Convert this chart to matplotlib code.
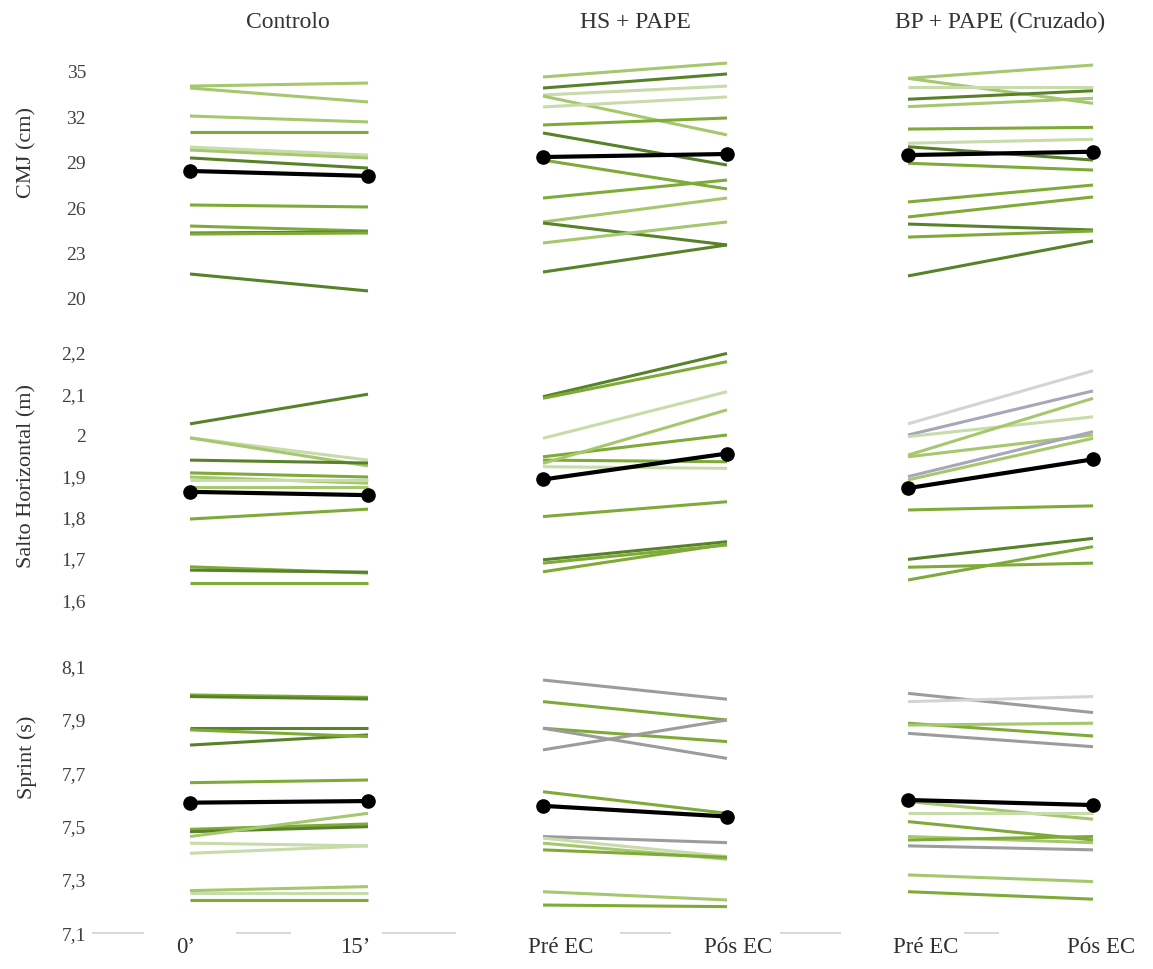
import matplotlib.pyplot as plt
from matplotlib.lines import Line2D
from matplotlib.ticker import FuncFormatter

plt.rcParams["font.family"] = ["Liberation Serif", "DejaVu Serif"]

groups = ["Controlo", "HS + PAPE", "BP + PAPE (Cruzado)"]
time_labels = [["0’", "15’"], ["Pré EC", "Pós EC"], ["Pré EC", "Pós EC"]]
measures = ["CMJ (cm)", "Salto Horizontal (m)", "Sprint (s)"]

cmj_ticks = [20, 23, 26, 29, 32, 35]
sh_ticks = [1.6, 1.7, 1.8, 1.9, 2.0, 2.1, 2.2]
sprint_ticks = [7.1, 7.3, 7.5, 7.7, 7.9, 8.1]

# CMJ (cm)
cmj_ctrl_pre = [34.07, 33.94, 32.09, 31.03, 30.04, 29.84, 29.32, 26.21, 24.82, 24.36, 24.29, 21.65]
cmj_ctrl_post = [34.27, 33.02, 31.70, 31.03, 29.51, 29.32, 28.65, 26.08, 24.49, 24.43, 24.36, 20.53]
cmj_hs_pre = [34.67, 33.94, 33.48, 33.41, 32.69, 31.50, 30.97, 29.18, 26.67, 25.09, 25.02, 23.70, 21.78]
cmj_hs_post = [35.59, 34.87, 34.07, 30.84, 33.35, 31.96, 28.85, 27.27, 27.86, 26.67, 23.57, 25.09, 23.57]
cmj_bp_pre = [34.58, 34.58, 34.03, 33.20, 32.71, 31.23, 30.29, 30.06, 28.97, 26.41, 25.42, 24.95, 24.09, 21.52]
cmj_bp_post = [35.46, 32.93, 34.03, 33.76, 33.26, 31.34, 30.55, 29.18, 28.52, 27.53, 26.74, 24.56, 24.49, 23.83]
cmj_mean = [[28.46, 28.13], [29.38, 29.58], [29.51, 29.73]]

# Salto Horizontal (m)
sh_ctrl_pre = [2.028, 1.994, 1.994, 1.940, 1.909, 1.899, 1.892, 1.875, 1.797, 1.681, 1.673, 1.642]
sh_ctrl_post = [2.100, 1.940, 1.926, 1.933, 1.899, 1.884, 1.892, 1.875, 1.821, 1.666, 1.668, 1.642]
sh_hs_pre = [2.094, 2.090, 1.993, 1.948, 1.940, 1.932, 1.924, 1.803, 1.698, 1.690, 1.669]
sh_hs_post = [2.199, 2.179, 2.106, 2.001, 1.936, 2.062, 1.920, 1.839, 1.742, 1.734, 1.736]
sh_bp_pre = [2.028, 2.001, 1.997, 1.952, 1.948, 1.900, 1.892, 1.819, 1.699, 1.680, 1.649]
sh_bp_post = [2.157, 2.108, 2.045, 2.090, 2.001, 2.009, 1.993, 1.829, 1.750, 1.690, 1.730]
sh_mean = [[1.863, 1.855], [1.893, 1.956], [1.872, 1.942]]

# Sprint (s)
sp_ctrl_pre = [7.994, 7.988, 7.869, 7.806, 7.863, 7.665, 7.490, 7.481, 7.463, 7.438, 7.400, 7.260, 7.250, 7.225]
sp_ctrl_post = [7.985, 7.979, 7.869, 7.844, 7.838, 7.675, 7.510, 7.500, 7.550, 7.428, 7.428, 7.275, 7.250, 7.225]
sp_hs_pre = [8.050, 7.969, 7.869, 7.869, 7.788, 7.631, 7.463, 7.457, 7.438, 7.413, 7.256, 7.206]
sp_hs_post = [7.978, 7.900, 7.819, 7.756, 7.900, 7.550, 7.440, 7.388, 7.378, 7.385, 7.225, 7.200]
sp_bp_pre = [8.000, 7.969, 7.888, 7.881, 7.850, 7.594, 7.550, 7.519, 7.463, 7.428, 7.450, 7.319, 7.256]
sp_bp_post = [7.928, 7.988, 7.840, 7.888, 7.800, 7.528, 7.550, 7.450, 7.440, 7.413, 7.463, 7.294, 7.228]
sp_mean = [[7.590, 7.596], [7.578, 7.538], [7.600, 7.581]]

# line shades (style)
dk, md, lt, vl = "#58822a", "#7eab38", "#a5c76e", "#c8dbaa"
gr, lg, gp = "#9c9c9c", "#d4d4d4", "#a8a6b8"
cmj_cols = [
    [lt, lt, lt, md, vl, lt, dk, md, md, dk, md, dk],
    [lt, dk, vl, lt, vl, md, dk, md, md, lt, dk, lt, dk],
    [lt, lt, vl, dk, lt, md, vl, dk, md, md, md, dk, md, dk],
]
sh_cols = [
    [dk, vl, lt, dk, md, lt, vl, lt, md, md, dk, md],
    [dk, md, vl, md, md, lt, vl, md, dk, md, md],
    [lg, gp, vl, lt, lt, gp, lt, md, dk, md, md],
]
sp_cols = [
    [md, dk, dk, dk, md, md, md, dk, lt, vl, vl, lt, vl, md],
    [gr, md, md, gr, gr, md, gr, vl, lt, md, lt, md],
    [gr, lg, md, lt, gr, lt, vl, md, lt, gr, md, lt, md],
]

rows = [
    ([(cmj_ctrl_pre, cmj_ctrl_post), (cmj_hs_pre, cmj_hs_post), (cmj_bp_pre, cmj_bp_post)], cmj_mean, cmj_cols, cmj_ticks),
    ([(sh_ctrl_pre, sh_ctrl_post), (sh_hs_pre, sh_hs_post), (sh_bp_pre, sh_bp_post)], sh_mean, sh_cols, sh_ticks),
    ([(sp_ctrl_pre, sp_ctrl_post), (sp_hs_pre, sp_hs_post), (sp_bp_pre, sp_bp_post)], sp_mean, sp_cols, sprint_ticks),
]

# layout in pixels
W, H = 1153, 969
col_px = [(190, 368), (543, 727), (908, 1093)]
row_px = [(50, 310, (19.27, 36.454)), (335, 610, (1.5762, 2.2437)), (650, 933.3, (7.1, 8.1626))]
label_shift = [(-4, -13), (18, 11), (18, 8)]
title_x = [288, 635, 1000]
ylabel_y = [152, 476, 757]

fig = plt.figure(figsize=(W / 100, H / 100), dpi=100)
fmt = FuncFormatter(lambda v, p: f"{v:g}".replace(".", ","))

for r, (pairs, means, cols, ticks) in enumerate(rows):
    top, bot, ylim = row_px[r]
    for c in range(3):
        x0, x1 = col_px[c]
        span = x1 - x0
        left = x0 - 0.1 * span
        ax = fig.add_axes([left / W, 1 - bot / H, 1.2 * span / W, (bot - top) / H])
        ax.set_xlim(-0.1, 1.1)
        ax.set_ylim(*ylim)
        ax.patch.set_visible(False)
        for s in ax.spines.values():
            s.set_visible(False)
        pre, post = pairs[c]
        for a, b, col in zip(pre, post, cols[c]):
            ax.plot([0, 1], [a, b], color=col, lw=2.2, solid_capstyle="butt")
        ax.plot([0, 1], means[c], color="black", lw=3.0, marker="o", ms=9.5, zorder=5)
        ax.set_yticks(ticks)
        ax.yaxis.set_major_formatter(fmt)
        ax.tick_params(length=0)
        if c == 0:
            ax.tick_params(axis="y", pad=(left - 86) * 0.72, labelsize=14, labelcolor="#404040")
        else:
            ax.set_yticklabels([])
        if r == 2:
            d0, d1 = label_shift[c]
            ax.set_xticks([d0 / span, 1 + d1 / span])
            ax.set_xticklabels(time_labels[c], fontsize=16.5, color="#303030")
            ax.tick_params(axis="x", pad=3)
        else:
            ax.set_xticks([])

for c, g in enumerate(groups):
    fig.text(title_x[c] / W, 1 - 22 / H, g, ha="center", va="center", fontsize=17, color="#333333")

for r, m in enumerate(measures):
    fig.text(27 / W, 1 - ylabel_y[r] / H, m, rotation=90, ha="center", va="center", fontsize=16, color="#333333")

# faint broken baseline under the bottom row
for a, b in [(93, 143), (237, 290), (383, 455), (621, 670), (781, 840), (965, 998)]:
    fig.add_artist(Line2D([a / W, b / W], [1 - 933 / H] * 2, color="#d9d9d9", lw=1.5))

fig.savefig("out.png", dpi=100)
